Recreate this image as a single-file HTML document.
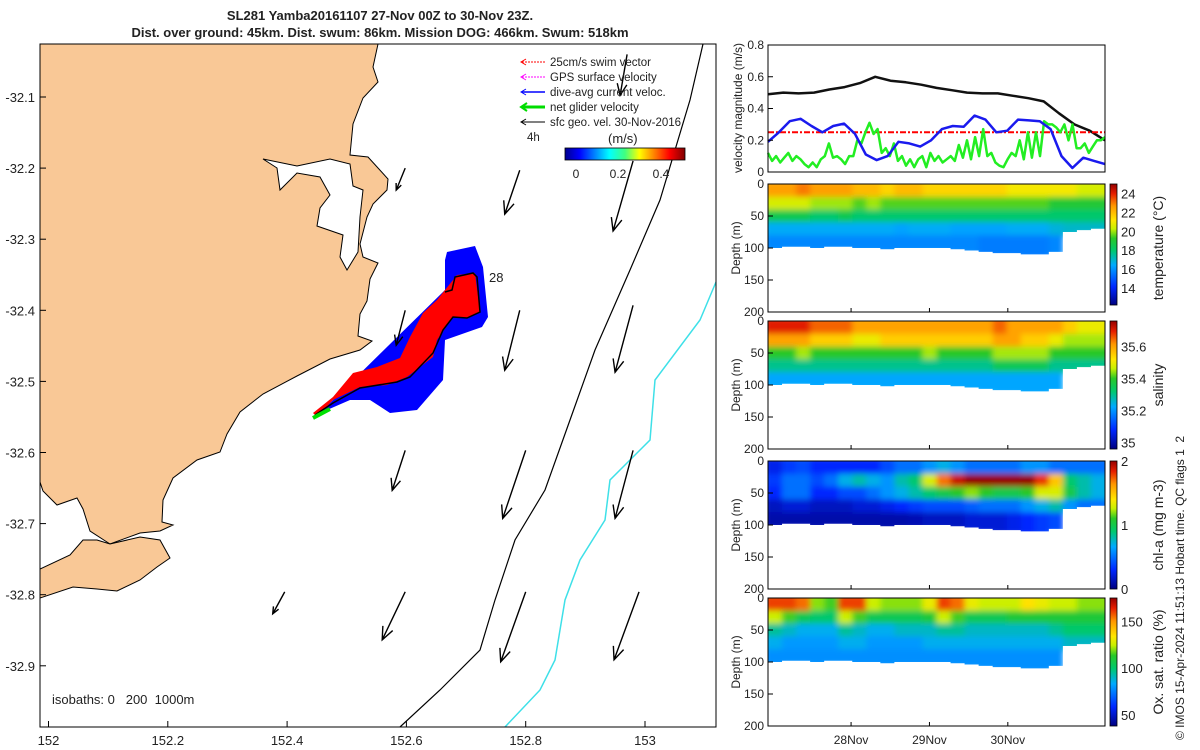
<!DOCTYPE html>
<html><head><meta charset="utf-8">
<style>
body{margin:0;background:#fff;}
svg{display:block;font-family:"Liberation Sans",sans-serif;}
text{fill:#222;}
</style></head>
<body>
<svg id="fig" width="1200" height="750" viewBox="0 0 1200 750">
<defs>
  <linearGradient id="jetH" x1="0" x2="1" y1="0" y2="0">
    <stop offset="0" stop-color="#00008f"/><stop offset="0.12" stop-color="#0000ff"/><stop offset="0.37" stop-color="#00ffff"/><stop offset="0.5" stop-color="#40ff80"/><stop offset="0.62" stop-color="#ffff00"/><stop offset="0.87" stop-color="#ff0000"/><stop offset="1" stop-color="#800000"/>
  </linearGradient>
  <linearGradient id="cmV" x1="0" x2="0" y1="1" y2="0">
    <stop offset="0" stop-color="rgb(0,0,128)"/><stop offset="0.15" stop-color="rgb(0,40,255)"/><stop offset="0.33" stop-color="rgb(0,170,255)"/><stop offset="0.45" stop-color="rgb(0,200,110)"/><stop offset="0.55" stop-color="rgb(40,200,40)"/><stop offset="0.63" stop-color="rgb(200,240,0)"/><stop offset="0.7" stop-color="rgb(255,230,0)"/><stop offset="0.82" stop-color="rgb(255,150,0)"/><stop offset="0.92" stop-color="rgb(230,30,0)"/><stop offset="1" stop-color="rgb(150,0,0)"/>
  </linearGradient>
  <filter id="soft" x="-2%" y="-2%" width="104%" height="104%"><feGaussianBlur stdDeviation="3"/></filter>
</defs>
<text x="380" y="20" text-anchor="middle" font-size="13" font-weight="bold">SL281 Yamba20161107 27-Nov 00Z to 30-Nov 23Z.</text>
<text x="380" y="37" text-anchor="middle" font-size="13" font-weight="bold">Dist. over ground: 45km. Dist. swum: 86km. Mission DOG: 466km. Swum: 518km</text>

<g id="map">
  <clipPath id="mapclip"><rect x="40" y="44" width="676" height="683"/></clipPath>
  <g clip-path="url(#mapclip)">
    <path fill="#f9c896" stroke="#000" stroke-width="1" d="M40,44 L378,44 373,67 378,82 363,98 353,124 350,155 368,157 388,179 387,190 373,204 367,217 360,244 363,257 378,263 370,279 367,301 360,314 358,336 372,341 360,350 330,359 297,376 263,394 240,412 227,434 220,452 197,460 173,478 163,500 162,522 173,525 160,531 140,533 110,544 90,531 83,509 77,498 57,505 43,491 40,482 Z"/>
    <path fill="#fff" stroke="#000" stroke-width="1" d="M263,159 L297,166 330,159 350,164 353,186 363,190 360,217 358,252 347,270 340,257 343,235 317,226 320,208 330,195 320,177 297,173 280,190 277,168 Z"/>
    <path fill="#f9c896" stroke="#000" stroke-width="1" d="M40,569 L70,555 83,540 97,540 110,544 140,537 160,540 170,558 157,567 140,580 117,591 97,589 73,587 40,598 Z"/>
    <polyline fill="none" stroke="#000" stroke-width="1.2" points="703,44 690,100 660,200 630,270 595,350 570,420 545,490 515,540 495,600 480,650 440,690 400,727"/>
    <polyline fill="none" stroke="#3ee0e8" stroke-width="1.5" points="716,282 700,320 655,380 650,440 610,480 605,520 580,560 565,600 555,660 540,690 505,727"/>
    <path fill="#0000ff" d="M447,252 L475,246 483,267 488,317 482,327 445,340 443,380 417,410 390,413 370,400 350,400 327,410 317,413 330,403 445,290 445,260 Z"/>
    <path fill="#ff0000" d="M453,280 L457,275 475,273 480,312 467,318 453,317 437,340 433,357 407,377 387,385 360,387 333,400 317,417 313,413 333,397 353,373 377,367 400,358 410,337 423,313 437,300 445,290 Z"/>
    <polyline fill="none" stroke="#000" stroke-width="1.5" points="315,415 333,403 360,388 397,382 410,377 433,353 443,330 453,317 467,318 480,312 477,277 473,273 455,277 452,290 445,292"/>
    <line x1="313" y1="418" x2="330" y2="409" stroke="#00e000" stroke-width="4"/>
    <text x="489" y="282" font-size="13">28</text>
    <g id="arrows"></g>
  </g>
  <rect x="40" y="44" width="676" height="683" fill="none" stroke="#000" stroke-width="1"/>
  <g id="mapaxes"></g>
  <text x="52" y="704" font-size="13">isobaths:&#160;0&#160;&#160;&#160;200&#160;&#160;1000m</text>
  <g font-size="11.5">
    <line x1="545" y1="62" x2="522" y2="62" stroke="#f00" stroke-dasharray="2,1"/><path d="M526,59 L521,62 526,65" fill="none" stroke="#f00"/>
    <text x="550" y="66">25cm/s swim vector</text>
    <line x1="545" y1="77" x2="522" y2="77" stroke="#f0f" stroke-dasharray="2,1"/><path d="M526,74 L521,77 526,80" fill="none" stroke="#f0f"/>
    <text x="550" y="81">GPS surface velocity</text>
    <line x1="545" y1="92" x2="522" y2="92" stroke="#00f" stroke-width="1.5"/><path d="M526,89 L521,92 526,95" fill="none" stroke="#00f"/>
    <text x="550" y="96">dive-avg current veloc.</text>
    <line x1="545" y1="107" x2="522" y2="107" stroke="#0d0" stroke-width="3"/><path d="M527,103 L521,107 527,111" fill="none" stroke="#0d0" stroke-width="2"/>
    <text x="550" y="111">net glider velocity</text>
    <line x1="545" y1="122" x2="522" y2="122" stroke="#000"/><path d="M526,119 L521,122 526,125" fill="none" stroke="#000"/>
    <text x="550" y="126">sfc geo. vel. 30-Nov-2016</text>
    <text x="527" y="141">4h</text>
    <text x="608" y="143" font-size="13">(m/s)</text>
    <rect x="565" y="148" width="120" height="12" fill="url(#jetH)" stroke="#000" stroke-width="0.8"/>
    <text x="576" y="178" text-anchor="middle" font-size="12">0</text>
    <text x="618" y="178" text-anchor="middle" font-size="12">0.2</text>
    <text x="661" y="178" text-anchor="middle" font-size="12">0.4</text>
  </g>
</g>

<g id="speedchart"></g>
<g id="panels"></g>
<text transform="translate(1184,740) rotate(-90)" font-size="12">© IMOS 15-Apr-2024 11:51:13 Hobart time. QC flags 1&#160;&#160;2</text>
</svg>
<script>
// ---- map arrow data (lon, lat, u, v in m/s) ----
const arrowLon = [152.598,152.79,152.98, 152.598,152.79,152.98, 152.598,152.8,152.98, 152.396,152.598,152.8,152.99, 152.97];
const arrowLat = [-32.2,-32.203,-32.19, -32.4,-32.4,-32.393, -32.597,-32.597,-32.597, -32.796,-32.796,-32.796,-32.796, -32.04];
const arrowU = [-0.045,-0.075,-0.1, -0.045,-0.075,-0.09, -0.065,-0.115,-0.09, -0.06,-0.115,-0.125,-0.125, -0.035];
const arrowV = [-0.11,-0.22,-0.35, -0.175,-0.3,-0.335, -0.2,-0.34,-0.34, -0.11,-0.24,-0.35,-0.34, -0.205];
const lonTicks = [152,152.2,152.4,152.6,152.8,153];
const lonLabels = ["152","152.2","152.4","152.6","152.8","153"];
const latTicks = [-32.1,-32.2,-32.3,-32.4,-32.5,-32.6,-32.7,-32.8,-32.9];
const latLabels = ["-32.1","-32.2","-32.3","-32.4","-32.5","-32.6","-32.7","-32.8","-32.9"];

// ---- velocity chart data (uniform time samples from start to end) ----
const speedTicks = [0,0.2,0.4,0.6,0.8];
const speedTickLabels = ["0","0.2","0.4","0.6","0.8"];
const sfcGeoSpeed = [0.49,0.5,0.495,0.5,0.52,0.535,0.56,0.6,0.575,0.565,0.55,0.53,0.515,0.5,0.495,0.495,0.48,0.465,0.445,0.37,0.3,0.26,0.2];
const diveAvgSpeed = [0.19,0.25,0.32,0.335,0.29,0.25,0.29,0.305,0.24,0.11,0.075,0.1,0.19,0.18,0.16,0.2,0.27,0.29,0.285,0.355,0.33,0.25,0.26,0.33,0.325,0.32,0.27,0.1,0.025,0.09,0.07,0.05];
const netGliderSpeed = [0.12,0.07,0.1,0.06,0.09,0.12,0.07,0.1,0.08,0.05,0.03,0.06,0.03,0.08,0.1,0.18,0.09,0.1,0.08,0.05,0.1,0.1,0.2,0.18,0.25,0.31,0.24,0.27,0.12,0.15,0.1,0.18,0.07,0.1,0.04,0.08,0.03,0.08,0.1,0.03,0.12,0.07,0.1,0.06,0.08,0.1,0.07,0.17,0.09,0.2,0.08,0.22,0.1,0.27,0.1,0.12,0.06,0.04,0.03,0.08,0.12,0.1,0.2,0.08,0.25,0.09,0.25,0.1,0.32,0.3,0.3,0.28,0.25,0.3,0.2,0.3,0.15,0.15,0.18,0.12,0.16,0.2,0.2,0.22];
const swimSpeed = [0.25,0.25];
const dayTicks = [28,29,30];
const dayLabels = ["28Nov","29Nov","30Nov"];

// ---- profile panels data: 24 time columns, 5 depth bands ----
const bandTop = [0,20,40,60,80];
const bottomDepth = [100,98,98,100,98,98,100,100,102,100,100,100,100,102,104,106,108,108,110,110,106,75,72,70];
const temp0 = [22.5,22.5,23,22.5,22.5,22.5,22,22,21.5,22,22,21.5,21.5,21.5,21.5,21.5,21.5,21,21,21,21,21,20.5,20.5];
const temp1 = [20.5,20.5,20.5,20,20,20,19.5,20,19.5,19.5,19.5,19.5,19.5,19.5,19.5,19.5,19.5,19.5,19.5,19.5,19,19,19,19];
const temp2 = [18.5,18.5,18.5,18,18,18.5,18,18,18,18,18,18,18,18,18,18,18,18,18,18,18,18,18,18];
const temp3 = [16.5,16.5,16.5,16.5,16.5,16.5,16.5,16.5,16.5,16.3,16.5,16.5,16.5,16.3,16.3,16.3,16.3,16.5,16.5,16.5,16.8,17,17,17];
const temp4 = [15.8,15.8,15.8,15.8,15.8,15.8,15.8,15.8,15.8,15.8,15.8,15.8,15.8,15.8,15.8,15.6,15.6,15.6,15.6,15.6,15.8,16,16,16];
const sal0 = [35.7,35.7,35.7,35.65,35.65,35.65,35.6,35.6,35.6,35.6,35.6,35.6,35.6,35.6,35.6,35.6,35.65,35.6,35.6,35.6,35.6,35.55,35.5,35.5];
const sal1 = [35.6,35.6,35.6,35.55,35.55,35.55,35.5,35.5,35.55,35.55,35.55,35.55,35.55,35.55,35.55,35.55,35.6,35.6,35.55,35.55,35.5,35.45,35.45,35.45];
const sal2 = [35.4,35.4,35.45,35.4,35.4,35.4,35.4,35.4,35.4,35.4,35.4,35.45,35.4,35.4,35.4,35.4,35.45,35.45,35.45,35.45,35.4,35.4,35.4,35.4];
const sal3 = [35.3,35.3,35.3,35.3,35.3,35.3,35.3,35.3,35.3,35.3,35.3,35.3,35.3,35.3,35.3,35.3,35.35,35.35,35.35,35.35,35.3,35.3,35.3,35.3];
const sal4 = [35.22,35.22,35.22,35.22,35.22,35.22,35.22,35.22,35.22,35.22,35.22,35.22,35.22,35.22,35.22,35.22,35.22,35.22,35.22,35.22,35.22,35.25,35.25,35.25];
const chl0 = [0.25,0.35,0.4,0.3,0.3,0.3,0.3,0.3,0.4,0.5,0.5,0.6,0.7,0.6,0.5,0.5,0.5,0.5,0.6,0.6,0.5,0.5,0.5,0.5];
const chl1 = [0.35,0.5,0.5,0.4,0.5,0.7,0.8,0.7,0.6,0.8,0.9,1.3,1.7,1.9,2,2,2,2,2,1.8,1.5,0.9,0.8,0.7];
const chl2 = [0.3,0.5,0.5,0.3,0.3,0.4,0.4,0.5,0.6,0.7,0.8,0.9,1.0,1.1,1.2,1.1,1.0,1.0,1.1,1.3,1.3,1.0,0.8,0.7];
const chl3 = [0.15,0.2,0.2,0.15,0.15,0.15,0.2,0.2,0.25,0.3,0.35,0.4,0.4,0.4,0.45,0.5,0.5,0.5,0.6,0.7,0.8,0.6,0.5,0.5];
const chl4 = [0.1,0.1,0.1,0.1,0.1,0.1,0.1,0.1,0.1,0.1,0.12,0.15,0.15,0.15,0.2,0.2,0.2,0.25,0.3,0.35,0.4,0.4,0.4,0.4];
const oxy0 = [160,160,155,120,115,160,160,125,120,120,120,130,160,155,130,125,125,125,135,130,125,125,120,120];
const oxy1 = [125,115,105,100,100,125,115,105,105,105,105,110,125,115,105,105,105,110,110,110,110,110,110,110];
const oxy2 = [95,90,85,85,85,95,90,85,85,90,90,90,95,95,90,90,90,90,90,90,95,100,100,100];
const oxy3 = [85,80,80,80,80,85,85,80,80,80,80,85,85,85,85,85,85,85,85,85,85,90,90,90];
const oxy4 = [78,78,78,78,78,78,78,78,78,78,78,78,78,78,78,78,78,78,78,78,78,80,80,80];
const depthTicks = [0,50,100,150,200];
const tempCbTicks = [14,16,18,20,22,24];
const salCbTicks = [35,35.2,35.4,35.6];
const chlCbTicks = [0,1,2];
const oxyCbTicks = [50,100,150];

const NS = "http://www.w3.org/2000/svg";
function mk(tag, attrs, parent){const e=document.createElementNS(NS,tag);for(const k in attrs)e.setAttribute(k,attrs[k]);parent.appendChild(e);return e;}

// map axes
const lonX = lon => 48.5 + (lon-152)*596.5;
const latY = lat => 97 + (-32.1-lat)*711;
const mapAxes = document.getElementById('mapaxes');
lonTicks.forEach((t,i)=>{
  const l=mk('line',{x1:lonX(t),x2:lonX(t),y1:727,y2:721,stroke:'#000'},mapAxes);
  
  
  const tx=mk('text',{x:lonX(t),y:745,'text-anchor':'middle','font-size':13},mapAxes);
  
  
  tx.textContent=lonLabels[i];
});
latTicks.forEach((t,i)=>{
  const l=mk('line',{x1:40,x2:46,y1:latY(t),y2:latY(t),stroke:'#000'},mapAxes);
  
  
  const tx=mk('text',{x:35,y:latY(t)+5,'text-anchor':'end','font-size':13},mapAxes);
  
  
  tx.textContent=latLabels[i];
});
// arrows
const arrG=document.getElementById('arrows');
const pxPerMs=200;
arrowLon.forEach((lon,i)=>{
  const x1=lonX(lon), y1=latY(arrowLat[i]);
  const x2=x1+arrowU[i]*pxPerMs, y2=y1-arrowV[i]*pxPerMs;
  const ang=Math.atan2(y2-y1,x2-x1), len=Math.hypot(x2-x1,y2-y1), h=Math.min(14,len*0.3);
  const a1=ang+Math.PI-0.4, a2=ang+Math.PI+0.4;
  const p=mk('path',{d:`M${x1},${y1} L${x2},${y2} M${x2+h*Math.cos(a1)},${y2+h*Math.sin(a1)} L${x2},${y2} L${x2+h*Math.cos(a2)},${y2+h*Math.sin(a2)}`,fill:'none',stroke:'#000','stroke-width':1.4},arrG);
  
  
});

// velocity chart
const T0=26.94, T1=31.24, CX0=768, CX1=1105;
const tX = d => CX0 + (d-T0)/(T1-T0)*(CX1-CX0);
const sc=document.getElementById('speedchart');
const vY = v => 172 - v/0.8*127;
function seriesPath(vals, color, w, name, dash){
  const n=vals.length;
  const pts=vals.map((v,i)=>`${tX(T0+(T1-T0)*i/(n-1)).toFixed(1)},${vY(v).toFixed(1)}`).join(' ');
  const p=mk('polyline',{points:pts,fill:'none',stroke:color,'stroke-width':w,'stroke-linejoin':'round'},sc);
  if(dash)p.setAttribute('stroke-dasharray',dash);
  
  
}
seriesPath(sfcGeoSpeed,'#111',2.5,'sfc-geo-speed-line');
seriesPath(swimSpeed,'#f00',2,'swim-speed-line','6,2,2,2');
seriesPath(netGliderSpeed,'#22ee22',2.5,'net-glider-speed-line');
seriesPath(diveAvgSpeed,'#1a1aee',2.5,'dive-avg-speed-line');
const fr=mk('rect',{x:768,y:45,width:337,height:127,fill:'none',stroke:'#000'},sc);


speedTicks.forEach((t,i)=>{
  const l=mk('line',{x1:768,x2:773,y1:vY(t),y2:vY(t),stroke:'#000'},sc);
  
  
  const tx=mk('text',{x:764,y:vY(t)+4,'text-anchor':'end','font-size':12},sc);
  
  
  tx.textContent=speedTickLabels[i];
});
const yl=mk('text',{transform:'translate(742,108) rotate(-90)','text-anchor':'middle','font-size':12},sc);


yl.textContent='velocity magnitude (m/s)';

// colormap
const cmStops=[[0,[0,0,128]],[0.15,[0,40,255]],[0.33,[0,170,255]],[0.45,[0,200,110]],[0.55,[40,200,40]],[0.63,[200,240,0]],[0.7,[255,230,0]],[0.82,[255,150,0]],[0.92,[230,30,0]],[1,[150,0,0]]];
function cmap(f){f=Math.max(0,Math.min(1,f));for(let i=1;i<cmStops.length;i++){if(f<=cmStops[i][0]){const a=cmStops[i-1],b=cmStops[i];const t=(f-a[0])/(b[0]-a[0]);const c=a[1].map((v,k)=>Math.round(v+(b[1][k]-v)*t));return `rgb(${c})`;}}return 'rgb(150,0,0)';}

const pg=document.getElementById('panels');
const panels=[
  {top:184,bands:[temp0,temp1,temp2,temp3,temp4],vmin:12.2,vmax:25,ticks:tempCbTicks,label:'temperature (°C)',name:'temperature'},
  {top:321,bands:[sal0,sal1,sal2,sal3,sal4],vmin:34.96,vmax:35.76,ticks:salCbTicks,label:'salinity',name:'salinity'},
  {top:461,bands:[chl0,chl1,chl2,chl3,chl4],vmin:0,vmax:2,ticks:chlCbTicks,label:'chl-a (mg m-3)',name:'chlorophyll'},
  {top:598,bands:[oxy0,oxy1,oxy2,oxy3,oxy4],vmin:38,vmax:175,ticks:oxyCbTicks,label:'Ox. sat. ratio (%)',name:'oxygen'}
];
const PH=128, ncol=bottomDepth.length;
panels.forEach((P,pi)=>{
  const g=mk('g',{},pg);
  
  
  const dY=d=>P.top+d/200*PH;
  const cw=(CX1-CX0)/ncol;
  const cp=mk('clipPath',{id:'clip'+pi},g);
  const cpr=mk('path',{},cp);
  let cd=`M${CX0},${P.top}`;
  for(let c=0;c<ncol;c++){cd+=` L${CX0+c*cw},${dY(bottomDepth[c])} L${CX0+(c+1)*cw},${dY(bottomDepth[c])}`;}
  cd+=` L${CX1},${P.top} Z`;
  cpr.setAttribute('d',cd);
  const outer=mk('g',{'clip-path':`url(#clip${pi})`},g);
  const cells=mk('g',{filter:'url(#soft)'},outer);
  for(let c=0;c<ncol;c++){
    for(let b=0;b<5;b++){
      const d0=bandTop[b], d1=b<4?Math.min(bandTop[b+1],bottomDepth[c]):bottomDepth[c];
      if(d1<=d0)continue;
      const v=P.bands[b][c];
      const r=mk('rect',{x:(CX0+c*cw-(c===0?4:0)).toFixed(1),y:(dY(d0)-(b===0?4:0)).toFixed(1),width:(cw+0.6+(c===0||c===ncol-1?4:0)).toFixed(1),height:(dY(d1)-dY(d0)+0.6+(b===0?4:0)+(d1===bottomDepth[c]?4:0)).toFixed(1),fill:cmap((v-P.vmin)/(P.vmax-P.vmin))},cells);
      
      
    }
  }
  const f=mk('rect',{x:768,y:P.top,width:337,height:PH,fill:'none',stroke:'#000'},g);
  
  
  depthTicks.forEach(t=>{
    const l=mk('line',{x1:768,x2:773,y1:dY(t),y2:dY(t),stroke:'#000'},g);
    
    
    const tx=mk('text',{x:764,y:dY(t)+4,'text-anchor':'end','font-size':12},g);
    
    
    tx.textContent=String(t);
  });
  dayTicks.forEach((d,i)=>{
    const l=mk('line',{x1:tX(d),x2:tX(d),y1:P.top+PH,y2:P.top+PH-4,stroke:'#000'},g);
    
    
    if(pi===3){
      const tx=mk('text',{x:tX(d),y:744,'text-anchor':'middle','font-size':12},g);
      
      
      tx.textContent=dayLabels[i];
    }
  });
  const dl=mk('text',{transform:`translate(740,${P.top+PH/2}) rotate(-90)`,'text-anchor':'middle','font-size':12},g);
  
  
  dl.textContent='Depth (m)';
  // colorbar
  const cbTop=P.top, cbH=PH-(pi===0?7:0);
  const cb=mk('rect',{x:1110,y:cbTop,width:7,height:cbH,fill:'url(#cmV)',stroke:'#000','stroke-width':0.8},g);
  
  
  P.ticks.forEach(t=>{
    const y=cbTop+cbH-(t-P.vmin)/(P.vmax-P.vmin)*cbH;
    const tx=mk('text',{x:1121,y:y+5,'font-size':13},g);
    
    
    tx.textContent=String(t);
  });
  const cl=mk('text',{transform:`translate(1163,${P.top+PH/2}) rotate(-90)`,'text-anchor':'middle','font-size':14},g);
  
  
  cl.textContent=P.label;
});
</script>
</body></html>
